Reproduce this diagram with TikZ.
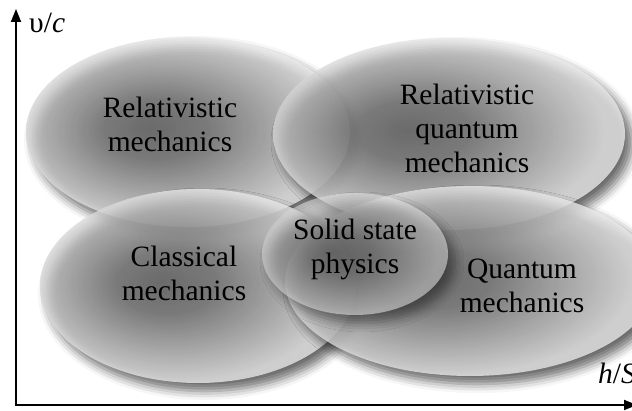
\documentclass[tikz,border=0pt]{standalone}
\usepackage{fontspec}
\setmainfont{Liberation Serif}[ItalicFont={Liberation Serif Italic},BoldFont={Liberation Serif Bold}]
\usetikzlibrary{shapes.geometric,shadows.blur,arrows.meta}
\pgfdeclareradialshading{ellsh}{\pgfpoint{-6bp}{1bp}}{color(0bp)=(black!58); color(8bp)=(black!50); color(25bp)=(black!8); color(50bp)=(black!8)}
\begin{document}
\begin{tikzpicture}[x=1pt,y=-1pt,
  blob/.style={ellipse, inner sep=0pt, shading=ellsh, fill opacity=0.78,
    blur shadow={shadow xshift=7pt, shadow yshift=-8pt, shadow blur radius=9pt, shadow opacity=75}},
  lbl/.style={align=center, font=\fontsize{29.5}{34}\selectfont, text=black},
  axis/.style={line width=1.8pt, black, line join=miter,
    {Triangle[width=10pt,length=13pt]}-{Triangle[width=10pt,length=13pt]}}]
\useasboundingbox (0,0) rectangle (632,411);
% ellipses
\node[blob, minimum width=324pt, minimum height=190pt] (erm) at (188,132) {};
\node[blob, minimum width=316pt, minimum height=194pt] (ecm) at (198,286) {};
\node[blob, minimum width=352pt, minimum height=192pt] (erqm) at (449,134) {};
\node[blob, minimum width=370pt, minimum height=190pt] (eqm) at (470,281) {};
\node[blob, fill opacity=0.55, minimum width=186pt, minimum height=122pt] (ess) at (355,254) {};
% labels
\node[lbl] (trm) at (170,124) {Relativistic\\mechanics};
\node[lbl] (trqm) at (467,128) {Relativistic\\quantum\\mechanics};
\node[lbl] (tss) at (355,249) {Solid state\\physics};
\node[lbl] (tcm) at (184,273) {Classical\\mechanics};
\node[lbl] (tqm) at (522,286) {Quantum\\mechanics};
% axes
\coordinate (o) at (16,405);
\coordinate (ytop) at (16,9);
\coordinate (xend) at (637,405);
\draw[axis] (ytop) -- (o) -- (xend);
\node[lbl, anchor=base west, inner sep=0pt] (vc) at (29,33) {υ/\textit{c}};
\node[lbl, anchor=base west, inner sep=0pt] (hs) at (598,384) {\textit{h}/\textit{S}};
\end{tikzpicture}
\end{document}
